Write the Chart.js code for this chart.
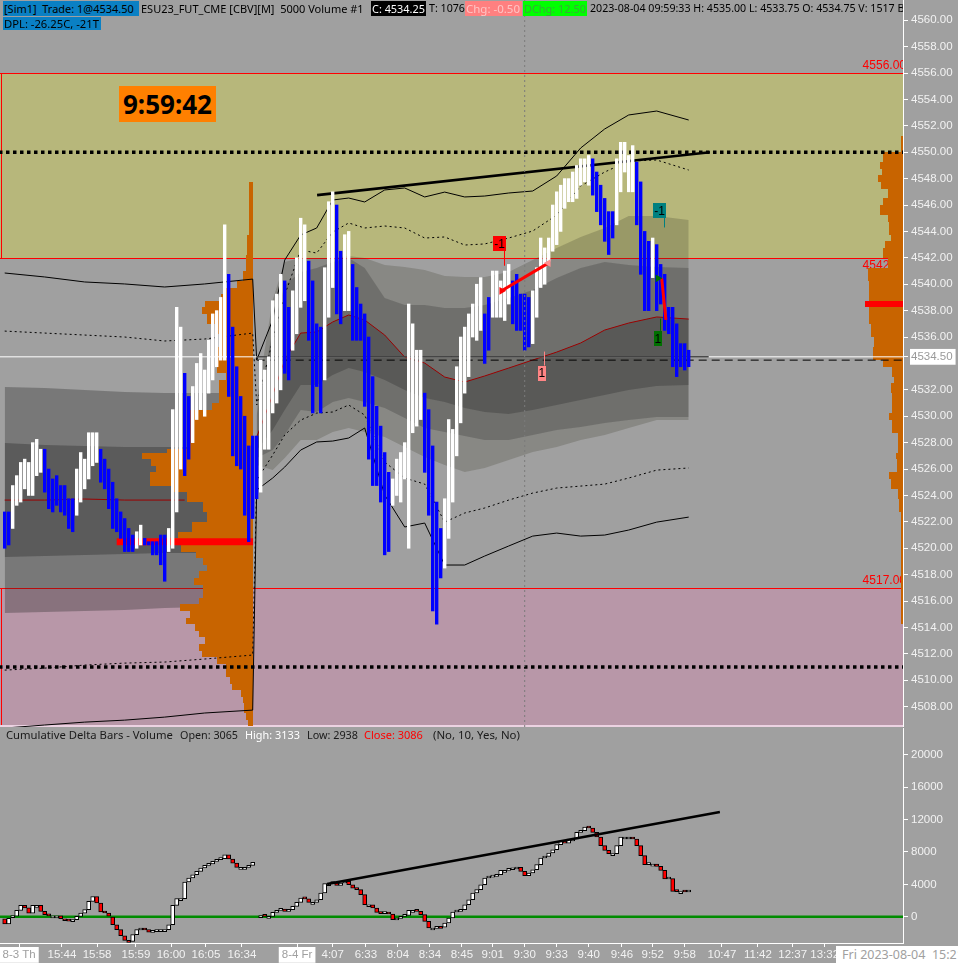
<!DOCTYPE html>
<html>
<head>
<meta charset="utf-8">
<title>ESU23_FUT_CME 5000 Volume</title>
<script src="https://cdn.jsdelivr.net/npm/chart.js@4.4.1/dist/chart.umd.min.js"></script>
<style>
  html, body { margin:0; padding:0; background:#a0a0a0; overflow:hidden; }
  #wrap { position:relative; width:958px; height:963px; background:#a0a0a0; overflow:hidden; }
  #c1 { position:absolute; left:0; top:0; width:958px; height:727px; }
  #c2 { position:absolute; left:0; top:727px; width:958px; height:236px; }
  .ov { position:absolute; white-space:pre; box-sizing:content-box; }
  #hdr { position:absolute; left:0; top:0; width:903px; height:32px; overflow:hidden; }
</style>
</head>
<body>
<div id="wrap">
  <canvas id="c1" width="958" height="727"></canvas>
  <canvas id="c2" width="958" height="236"></canvas>
  <div id="hdr"></div>
</div>
<script>
// ===================== DATA =====================
// Price bars, session 1 (8-3), bar index 0..63
const lowD1 = [4520.0,4520.25,4521.5,4523.25,4523.5,4524.5,4524.0,4524.0,4525.5,4525.75,
4524.25,4523.0,4522.75,4523.25,4522.75,4522.5,4521.5,4521.25,4522.5,4523.5,
4524.5,4525.25,4526.25,4526.5,4525.0,4524.5,4523.0,4521.5,4521.25,4520.75,
4519.75,4519.75,4519.75,4520.0,4520.25,4520.25,4520.25,4519.5,4519.5,4518.75,
4517.5,4519.75,4520.0,4522.75,4526.0,4525.5,4526.75,4528.0,4529.75,4530.5,
4530.0,4531.75,4532.75,4533.75,4534.25,4534.25,4531.5,4527.0,4526.25,4526.0,
4522.5,4520.5,4522.25,4523.75];
const highD1 = [4522.75,4522.75,4524.75,4525.5,4526.5,4526.75,4526.5,4528.0,4528.25,4527.5,
4527.5,4526.0,4525.25,4525.5,4524.75,4524.75,4523.75,4523.75,4526.0,4527.25,
4526.75,4528.75,4528.75,4528.75,4527.5,4526.75,4526.0,4525.0,4523.75,4522.75,
4522.25,4521.5,4521.0,4521.25,4521.75,4520.75,4520.5,4520.5,4520.5,4521.0,
4521.0,4521.5,4530.5,4538.25,4536.75,4533.25,4531.5,4532.25,4534.0,4534.75,
4533.5,4535.75,4537.75,4538.0,4539.0,4544.5,4540.75,4536.75,4533.75,4531.5,
4530.0,4527.75,4528.5,4528.5];
const upD1 = [0,0,1,1,1,1,1,1,1,1, 0,0,0,0,0,0,0,0,1,1, 1,1,1,1,0,0,0,0,0,0,
0,0,0,1,1,0,0,0,0,0, 0,1,1,1,1,0,0,1,1,1, 1,1,1,1,1,1,0,0,0,0, 0,0,0,0];
// Price bars, session 2 (8-4), bar index 64..171
const lowD2 = [4524.25,4527.5,4527.5,4530.25,4531.0,4532.0,4533.25,4532.75,4535.0,4536.25,
4538.25,4538.75,4535.75,4530.25,4532.25,4530.25,4532.75,4537.5,4539.75,4537.75,
4537.0,4538.0,4538.0,4535.75,4535.75,4535.75,4530.75,4526.75,4524.75,4524.75,
4523.5,4519.5,4519.75,4523.25,4524.0,4523.5,4525.25,4520.0,4528.75,4529.25,
4529.75,4525.75,4522.5,4515.25,4514.25,4517.75,4518.5,4520.75,4523.5,4527.0,
4529.5,4531.75,4533.0,4536.0,4535.75,4536.5,4534.0,4535.0,4537.5,4537.5,
4537.5,4537.25,4538.5,4537.0,4536.5,4536.5,4535.0,4535.25,4535.5,4537.5,
4539.75,4540.0,4541.75,4542.5,4543.0,4544.0,4545.75,4546.25,4546.25,4546.5,
4547.5,4547.75,4547.5,4546.75,4545.5,4544.5,4543.25,4542.25,4543.5,4544.5,
4547.0,4548.5,4547.0,4547.0,4544.5,4540.75,4538.0,4538.0,4540.5,4538.0,
4538.5,4536.5,4536.25,4533.75,4533.0,4533.75,4533.5,4533.75];
const highD2 = [4534.25,4533.5,4534.5,4538.75,4539.25,4540.75,4540.25,4538.25,4539.5,4542.0,
4545.0,4544.5,4541.75,4540.25,4537.0,4536.75,4541.25,4546.25,4547.0,4546.0,
4542.5,4543.75,4544.0,4541.5,4539.75,4538.5,4537.75,4536.0,4533.0,4530.75,
4529.25,4527.25,4525.75,4525.25,4526.75,4527.25,4528.0,4538.5,4537.0,4535.0,
4535.0,4531.75,4530.5,4527.75,4523.5,4521.5,4523.75,4529.75,4529.0,4533.75,
4536.0,4536.75,4537.75,4538.5,4540.0,4540.5,4537.75,4539.0,4541.0,4541.0,
4540.25,4541.0,4541.5,4540.25,4540.75,4539.25,4539.25,4539.0,4539.5,4541.25,
4543.5,4542.75,4543.5,4546.0,4547.0,4547.5,4548.0,4548.0,4548.5,4549.0,
4549.5,4549.5,4549.75,4549.5,4548.5,4547.5,4546.5,4545.5,4545.5,4549.5,
4550.75,4550.75,4549.75,4550.5,4549.25,4547.75,4544.0,4543.25,4543.5,4543.0,
4541.5,4540.75,4538.25,4538.25,4537.0,4535.5,4535.5,4535.0];
const upD2 = [1,1,1,1,1,1,0,0,1,1, 1,1,0,0,0,0,1,1,1,0, 0,1,1,0,0,0,0,0,0,0,
0,0,0,1,1,1,1,1,1,1, 1,0,0,0,0,0,1,1,1,1, 1,1,1,1,1,1,0,0,1,1,
1,1,1,0,0,0,0,0,1,1, 1,1,1,1,1,1,1,1,1,1, 1,1,1,0,0,0,0,0,0,1,
1,1,1,1,0,0,0,0,1,0, 0,0,0,0,0,0,0,0];

// Cumulative delta closes per bar (null = no bar)
const deltaD1 = [-900,-200,0,780,1400,1100,450,1400,1400,660,
250,100,100,100,-250,-300,-370,-370,40,450,
865,1895,2500,1690,577,453,0,-990,-1600,-2350,
-2925,-3050,-2225,-1600,-1400,-1600,-1900,-1700,-1600,-1600,
-1600,-990,1400,2225,2225,4285,4780,5190,5600,6015,
6345,6510,6840,7045,7170,7660,7130,6630,6100,6100,
6100,6345,6715];
const deltaD2 = [null,120,40,40,535,780,950,660,870,1280,1770,
2300,2200,1770,1770,2100,2925,4080,4080,4160,3870,
4160,4370,3950,3540,3340,2720,1480,1480,1070,535,
370,400,330,-370,-160,40,160,780,780,660,
250,-580,-1400,-1400,-1200,-1280,-780,-165,577,660,
865,1480,2100,2925,3340,3950,4780,4900,4985,5190,
5730,5730,5800,5890,6100,5600,5070,5400,5800,6430,
7250,7450,7870,8280,8900,9310,9100,9600,9600,10420,
10630,11080,10960,10420,9850,8775,8200,7790,7790,8775,
9850,9850,9850,9600,8775,7540,6430,6500,6500,6220,
5730,4655,4700,3130,3100,3100,3050,3086];
const deltaFirstOpen = -250;

// Session-1 VWAP bands (bar index knots)
const bandIdx1 = [0,10,20,30,40,50,62];
const d1MidTop  = [4532.21,4532.14,4531.98,4531.83,4531.76,4531.76,4531.76];
const d1MidBot  = [4515.09,4515.17,4515.24,4515.32,4515.47,4515.55,4515.62];
const d1DarkTop = [4527.97,4527.82,4527.74,4527.67,4527.67,4527.67,4527.67];
const d1DarkBot = [4519.33,4519.41,4519.48,4519.56,4519.64,4519.64,4519.64];

// Session-2 VWAP and bands
const bandIdx2 = [63,67,70,74,78,82,86,90,95,100,105,110,115,120,126,132,138,144,150,156,163,171];
const vwap2  = [4528.42,4531.61,4534.26,4536.3,4536.38,4537.14,4537.67,4537.29,4536.15,4534.48,4534.03,4532.97,4532.59,4533.05,4533.65,4534.26,4534.86,4535.55,4536.53,4537.06,4537.52,4537.36];
const bandU1 = [4531.23,4538.8,4541.68,4541.98,4541.98,4541.98,4542.14,4541.98,4541.45,4541.3,4541.08,4540.62,4540.55,4540.55,4540.92,4541.83,4542.74,4543.58,4544.26,4545.17,4545.17,4544.86];
const bandU2 = [4530.09,4536.53,4539.94,4540.92,4541.23,4541.68,4541.98,4541.23,4538.95,4538.42,4538.42,4538.2,4538.2,4538.42,4538.95,4539.56,4540.47,4541.23,4541.68,4541.45,4541.3,4541.23];
const bandD3 = [4527.44,4528.95,4530.47,4532.36,4532.36,4533.12,4533.65,4533.35,4532.74,4531.98,4531.38,4531.08,4530.62,4530.32,4530.17,4530.47,4530.85,4531.23,4531.61,4531.98,4532.29,4532.36];
const bandD2 = [4526.83,4527.44,4528.58,4530.47,4530.32,4531.08,4531.38,4531.08,4530.62,4529.86,4529.11,4528.8,4528.5,4528.2,4528.2,4528.58,4528.95,4529.18,4529.48,4529.71,4529.94,4529.94];
const bandD1 = [4526.3,4525.92,4526.83,4528.2,4528.2,4528.8,4529.11,4528.8,4528.42,4527.67,4526.91,4526.3,4525.77,4526.08,4526.68,4527.29,4527.67,4528.2,4528.58,4529.11,4529.71,4529.71];

// Session-1 VWAP
const vwapIdx1 = [0,10,20,30,45];
const vwap1 = [4523.65,4523.65,4523.73,4523.65,4523.65];

// Deviation lines (both sessions)
const lineIdx = bandIdx1.concat(bandIdx2);
const lineSplus  = [4540.85,4540.55,4540.17,4540.02,4539.79,4540.02,4540.39,
  4534.26,4537.29,4541.83,4543.73,4544.26,4546.38,4546.53,4546.23,4547.14,4547.29,4546.61,4546.98,4546.61,4546.68,4546.91,4547.06,4548.2,4550.32,4551.76,4552.82,4553.12,4552.44];
const lineDplus  = [4536.45,4536.3,4536.15,4536.0,4535.7,4535.85,4536.3,
  4530.85,4535.77,4539.18,4542.59,4542.36,4543.95,4544.64,4544.26,4544.41,4544.26,4543.5,4543.58,4542.97,4543.05,4543.5,4544.03,4545.24,4547.44,4548.5,4549.33,4549.41,4548.65];
const lineDminus = [4510.77,4510.92,4511.15,4511.3,4511.38,4511.61,4511.91,
  4525.17,4527.06,4528.58,4529.71,4530.24,4530.32,4530.85,4530.09,4526.53,4525.32,4524.86,4521.98,4522.67,4523.05,4523.65,4524.18,4524.56,4524.71,4524.86,4525.32,4525.92,4526.08];
const lineSminus = [4506.38,4506.61,4506.83,4506.98,4507.21,4507.52,4507.74,
  4524.41,4525.32,4526.15,4527.44,4528.05,4528.12,4528.35,4529.11,4524.03,4521.61,4521.91,4518.73,4518.73,4519.41,4520.17,4520.92,4521.15,4520.92,4521.0,4521.38,4521.98,4522.36];

// Volume profiles: bin edges (price) and volume per bin
const prof1Edges = [4547.75,4543.75,4542.25,4541.0,4540.25,4539.75,4539.25,4538.75,4538.25,4537.75,4537.0,4536.25,4535.25,4533.25,4532.75,4531.0,4530.5,4527.5,4527.25,4526.75,4526.25,4525.75,4524.75,4524.25,4523.5,4522.75,4522.0,4521.25,4520.75,4520.25,4519.75,4519.25,4518.75,4518.25,4517.75,4517.25,4516.25,4515.75,4515.25,4514.75,4514.25,4513.75,4513.25,4512.75,4512.25,4511.75,4511.25,4510.25,4509.75,4509.25,4508.75,4508.25,4507.5,4507.0,4506.5];
const prof1Vol = [400,700,800,1100,1800,3100,3500,5300,5700,5100,4100,3500,4000,3000,3800,4600,7300,9500,12300,11300,10800,11500,9100,7300,5500,5100,6800,8300,9000,8000,6300,5600,5100,6000,6600,5600,6000,8100,7000,7400,6400,6000,5300,6000,5700,4000,3000,2500,2300,1300,1100,1000,800,600];
const prof2Edges = [4551.25,4550.0,4549.25,4548.75,4548.25,4547.75,4547.25,4546.5,4546.0,4545.25,4544.75,4543.75,4543.25,4542.75,4542.0,4541.25,4540.25,4538.75,4538.25,4537.0,4536.75,4536.0,4535.25,4534.25,4533.75,4533.0,4532.5,4531.75,4530.25,4529.75,4528.75,4528.25,4527.25,4526.75,4525.75,4525.25,4524.5,4523.75,4522.75,4519.75,4514.25];
const prof2Vol = [200,2200,2600,2300,2800,2400,1700,2200,2600,1700,1500,1300,2000,2200,1700,3900,3800,4200,3800,3600,3500,3200,3300,2200,1200,1000,1300,1200,1600,1200,500,600,800,700,1600,1300,600,400,200,200];
const profAnchor = [62.1, 224.6];
const pocPrice = [4520.5, 4538.5];
const poc1Span = [28, 62.1];

// Reference levels
const zoneHigh = [4556, 4517];
const zoneLow  = [4542, 4500];
const zoneLines = [4556, 4542, 4517];
const dottedLevels = [4550, 4511];
const lastPrice = 4534.5;
const openLineSpan = [63, 176];
const dashedLevel = 4534.25;
const cursorIdx = 130;

// Trend lines
const trendIdx = [78.1, 176.3];
const trendPrice = [4546.75, 4550.0];
const dTrendIdx = [80.6, 178.8];
const dTrendVal = [4042, 12941];

// Trades
const tradeIdx = [[124.25, 135.9], [164.25, 165.3]];
const tradePrice = [[4539.5, 4541.6], [4540.45, 4537.3]];
const entryIdx = 163.3, entryPrice = 4540.45;
const markIdx = [123.7, 134.3, 163.7, 163.3];
const markPrice = [4543.1, 4533.27, 4545.6, 4535.9];
const markStem = [4541.4, 4534.9, 4544.3, 4537.4];
const markText = ['-1', '1', '-1', '1'];

// Axes
const priceTicks = [4508,4510,4512,4514,4516,4518,4520,4522,4524,4526,4528,4530,4532,4534.5,4536,4538,4540,4542,4544,4546,4548,4550,4552,4554,4556,4558,4560];
const deltaTicks = [0,4000,8000,12000,16000,20000];
const timeTickIdx = [3.6,14.3,23.1,32.8,41.6,50.3,59.3,73.1,82,90.3,98.3,106.3,114.3,122,130,138,146,154.3,162,170,179.3,188.3,197,205];
const timeTickLbl = ['8-3 Th','15:44','15:58','15:59','16:00','16:05','16:34','8-4 Fr','4:07','6:33','8:04','8:34','8:45','9:01','9:30','9:33','9:40','9:46','9:52','9:58','10:47','11:42','12:37','13:32'];

// ===================== STYLE / RANGES =====================
const X_MIN = -1.175, X_MAX = -1.175 + 903/4;
const Y_MIN = 4506.46, Y_MAX = 4561.53;
const D_MIN = -3251, D_MAX = 23323;
const AX_W = 55;
const TICK_FONT = {family: '"Liberation Sans", Arial, sans-serif', size: 11.5};
const C = {
  olive:'#b7b77b', pink:'#b897a8', prof:'#c86400', red:'#ff0000', blue:'#0000ff',
  vwap:'#9a0000', axis:'#f2f2f2'
};

// ===================== BUILD =====================
const low = lowD1.concat(lowD2), high = highD1.concat(highD2), up = upD1.concat(upD2);
const deltaClose = deltaD1.concat(deltaD2);
const pts = (idx, vals) => idx.map((x, k) => ({x, y: vals[k]}));
const hline = (x0, x1, v) => [{x: x0, y: v}, {x: x1, y: v}];

const L = {type:'line', pointRadius:0, tension:0, borderWidth:1, fill:false, spanGaps:false};
const ds1 = [];
const add = d => { ds1.push(d); return ds1.length - 1; };

// session 1 bands
let t;
t = add({...L, data: pts(bandIdx1, d1MidBot), borderWidth:0, borderColor:'transparent', order:100});
add({...L, data: pts(bandIdx1, d1MidTop), borderWidth:0, borderColor:'transparent', fill:t, backgroundColor:'rgba(40,40,40,0.33)', order:99});
t = add({...L, data: pts(bandIdx1, d1DarkBot), borderWidth:0, borderColor:'transparent', order:98});
add({...L, data: pts(bandIdx1, d1DarkTop), borderWidth:0, borderColor:'transparent', fill:t, backgroundColor:'rgba(40,40,40,0.36)', order:97});
// session 2 bands
t = add({...L, data: pts(bandIdx2, bandD1), borderWidth:0, borderColor:'transparent', order:96});
add({...L, data: pts(bandIdx2, bandU1), borderWidth:0, borderColor:'transparent', fill:t, backgroundColor:'rgba(50,50,30,0.22)', order:95});
t = add({...L, data: pts(bandIdx2, bandD2), borderWidth:0, borderColor:'transparent', order:94});
add({...L, data: pts(bandIdx2, bandU2), borderWidth:0, borderColor:'transparent', fill:t, backgroundColor:'rgba(40,40,40,0.25)', order:93});
t = add({...L, data: pts(bandIdx2, bandD3), borderWidth:0, borderColor:'transparent', order:92});
add({...L, data: pts(bandIdx2, vwap2), borderWidth:0, borderColor:'transparent', fill:t, backgroundColor:'rgba(40,40,40,0.30)', order:91});
// profile draw hook
add({...L, label:'PROFILE', data: [], order:80});
// deviation lines
add({...L, data: pts(lineIdx, lineSplus), borderColor:'#000', order:70});
add({...L, data: pts(lineIdx, lineDplus), borderColor:'#000', borderDash:[2,3], order:70});
add({...L, data: pts(lineIdx, lineDminus), borderColor:'#000', borderDash:[2,3], order:70});
add({...L, data: pts(lineIdx, lineSminus), borderColor:'#000', order:70});
add({...L, data: pts(vwapIdx1, vwap1).concat([{x:50, y:null}], pts(bandIdx2, vwap2)), borderColor:C.vwap, order:69});
// horizontal levels
dottedLevels.forEach(v => add({...L, data: hline(X_MIN-2, X_MAX+2, v), borderColor:'#000', borderWidth:3.5, borderDash:[3.5,3.5], borderCapStyle:'butt', order:66}));
add({...L, data: hline(X_MIN-2, X_MAX+2, lastPrice), borderColor:'#ffffff', order:65});
add({...L, data: hline(openLineSpan[0], X_MAX+2, dashedLevel), borderColor:'#000', borderDash:[8,5], order:64});
add({...L, data: hline(openLineSpan[0], openLineSpan[1], lastPrice), borderColor:'#000', order:64});
// POC of session 1
add({...L, data: hline(poc1Span[0], poc1Span[1], pocPrice[0]), borderColor:C.red, borderWidth:7, borderCapStyle:'butt', order:60});
// trend line
add({...L, data: pts(trendIdx, trendPrice), borderColor:'#000', borderWidth:2.6, order:55});
// price bars
add({type:'bar', data: low.map((lo, i) => ({x:i, y:[lo, high[i]]})),
     backgroundColor: up.map(u => u ? '#ffffff' : C.blue), borderWidth:0,
     barThickness:2.7, grouped:false, order:20});
// cursor
add({...L, data: [{x:cursorIdx, y:Y_MIN}, {x:cursorIdx, y:Y_MAX}], borderColor:'#7a7a7a', borderDash:[2,3], order:15});
// trades
add({...L, data: pts(tradeIdx[0], tradePrice[0]), borderColor:C.red, borderWidth:3,
     pointRadius:[4.5,4.5], pointStyle:'triangle', pointRotation:[90,270], pointBackgroundColor:[C.red,'#ff9090'], pointBorderWidth:0, order:10});
add({...L, data: pts(tradeIdx[1], tradePrice[1]), borderColor:C.red, borderWidth:3, order:10});
add({...L, data: [{x:entryIdx, y:entryPrice}], showLine:false, pointRadius:4.5, pointStyle:'triangle', pointRotation:90,
     pointBackgroundColor:'#007000', pointBorderWidth:0, order:9});

// ===================== PLUGINS =====================
const zonePlugin = {
  id:'zones',
  beforeDatasetsDraw(chart) {
    const {ctx, chartArea:a, scales:{y}} = chart;
    ctx.save();
    ctx.beginPath(); ctx.rect(a.left, a.top, a.width, a.height); ctx.clip();
    const zc = [C.olive, C.pink];
    zoneHigh.forEach((hi, k) => {
      const t0 = Math.round(y.getPixelForValue(hi));
      const b0 = Math.min(Math.round(y.getPixelForValue(zoneLow[k])), a.bottom);
      ctx.fillStyle = zc[k]; ctx.fillRect(a.left, t0, a.width, b0 - t0);
      ctx.fillStyle = C.red; ctx.fillRect(a.left + 1, t0, 1, b0 - t0);
    });
    ctx.fillStyle = C.red;
    zoneLines.forEach(p => ctx.fillRect(a.left, Math.round(y.getPixelForValue(p)), a.width, 1));
    ctx.fillStyle = '#ecd2e2'; ctx.fillRect(a.left, a.bottom - 2, a.width, 2);
    ctx.font = '12px "Liberation Sans", Arial, sans-serif';
    ctx.textAlign = 'right';
    zoneLines.forEach((p, k) => {
      const yy = y.getPixelForValue(p);
      const below = (k === 1);
      ctx.textBaseline = below ? 'top' : 'bottom';
      ctx.fillStyle = C.red;
      ctx.fillText(p.toFixed(2), a.right + 3, below ? yy + 2 : yy - 1);
    });
    ctx.restore();
  }
};

const profilePlugin = {
  id:'vprofile',
  afterDatasetDraw(chart, args) {
    if (chart.data.datasets[args.index].label !== 'PROFILE') return;
    const {ctx, chartArea:a, scales:{x, y, xv}} = chart;
    ctx.save();
    ctx.beginPath(); ctx.rect(a.left, a.top, a.width, a.height); ctx.clip();
    const profs = [[prof1Edges, prof1Vol], [prof2Edges, prof2Vol]];
    profs.forEach(([edges, vols], p) => {
      const right = Math.round(x.getPixelForValue(profAnchor[p]));
      for (let k = 0; k < vols.length; k++) {
        const yt = Math.round(y.getPixelForValue(edges[k]));
        const yb = Math.round(y.getPixelForValue(edges[k + 1]));
        const w = Math.round(xv.getPixelForValue(vols[k]) - xv.getPixelForValue(0));
        const isPoc = p === 1 && pocPrice[1] < edges[k] && pocPrice[1] > edges[k + 1];
        ctx.fillStyle = isPoc ? C.red : C.prof;
        ctx.fillRect(right - w, yt, w, yb - yt);
      }
    });
    ctx.restore();
  }
};

const markerPlugin = {
  id:'markers',
  afterDatasetsDraw(chart) {
    const {ctx, scales:{x, y}} = chart;
    const mc = ['#ff0000', '#ff8585', '#008080', '#007000'];
    ctx.save();
    markIdx.forEach((mx, k) => {
      const px = x.getPixelForValue(mx), py = y.getPixelForValue(markPrice[k]);
      const sy = y.getPixelForValue(markStem[k]);
      const w = markText[k].length > 1 ? 13 : 8, h = 15;
      const sx = Math.round(px + w / 2 - 2) + 0.5;
      ctx.strokeStyle = mc[k]; ctx.lineWidth = 1;
      ctx.beginPath(); ctx.moveTo(sx, sy > py ? py + h / 2 : py - h / 2); ctx.lineTo(sx, sy); ctx.stroke();
      ctx.fillStyle = mc[k]; ctx.fillRect(Math.round(px - w / 2), Math.round(py - h / 2), w, h);
      ctx.fillStyle = '#000';
      ctx.font = '12px "Liberation Sans", Arial, sans-serif';
      ctx.textAlign = 'center'; ctx.textBaseline = 'middle';
      ctx.fillText(markText[k], px, py + 1);
    });
    ctx.restore();
  }
};

function zeroPad(s) { s.paddingTop = 0; s.paddingBottom = 0; s.paddingLeft = 0; s.paddingRight = 0; }

// ===================== CHART 1: PRICE =====================
new Chart(document.getElementById('c1'), {
  type:'bar',
  data:{datasets: ds1},
  plugins:[zonePlugin, profilePlugin, markerPlugin],
  options:{
    responsive:false, animation:false, events:[],
    layout:{padding:0, autoPadding:false},
    plugins:{legend:{display:false}, tooltip:{enabled:false}},
    elements:{point:{radius:0}},
    scales:{
      x:{type:'linear', min:X_MIN, max:X_MAX, display:false, offset:false, grid:{offset:false}},
      xv:{type:'linear', axis:'x', position:'bottom', min:0, max:90300, display:false},
      y:{type:'linear', position:'right', min:Y_MIN, max:Y_MAX,
        afterBuildTicks: s => { s.ticks = priceTicks.map(v => ({value:v})); },
        afterFit: s => { s.width = AX_W; zeroPad(s); },
        border:{color:'#ffffff', width:1},
        grid:{drawOnChartArea:false, color:'#ffffff', tickLength:5},
        ticks:{
          font:TICK_FONT, padding:3,
          color: c => (c.tick && c.tick.value === lastPrice) ? '#9a9a9a' : C.axis,
          showLabelBackdrop: c => !!(c.tick && c.tick.value === lastPrice),
          backdropColor:'#ffffff', backdropPadding:{left:1, right:3, top:1, bottom:1},
          callback: v => Number(v).toFixed(2)
        }
      }
    }
  }
});

// ===================== CHART 2: CUMULATIVE DELTA =====================
const bodies = [], bodyColors = [];
deltaClose.forEach((c, i) => {
  if (c === null) return;
  const prev = i === 0 ? deltaFirstOpen : deltaClose[i - 1];
  const o = prev === null ? 0 : prev;
  bodies.push({x:i, y:[o, c]});
  bodyColors.push(c >= o ? '#ffffff' : C.red);
});

new Chart(document.getElementById('c2'), {
  type:'bar',
  data:{datasets:[
    {...L, data: hline(X_MIN - 2, X_MAX + 2, 0), borderColor:'#008c00', borderWidth:2.5, order:30},
    {type:'bar', data:bodies, backgroundColor:bodyColors, borderColor:'#000', borderWidth:1,
     borderSkipped:false, barThickness:4, minBarLength:2, grouped:false, order:20},
    {...L, data: pts(dTrendIdx, dTrendVal), borderColor:'#000', borderWidth:2.6, order:10}
  ]},
  options:{
    responsive:false, animation:false, events:[],
    layout:{padding:{top:1, left:0, right:0, bottom:0}, autoPadding:false},
    plugins:{legend:{display:false}, tooltip:{enabled:false}},
    elements:{point:{radius:0}},
    scales:{
      x:{type:'linear', min:X_MIN, max:X_MAX, position:'bottom', offset:false,
        afterBuildTicks: s => { s.ticks = timeTickIdx.map(v => ({value:v})); },
        afterFit: s => { s.height = 20; zeroPad(s); },
        border:{color:'#ffffff', width:1},
        grid:{drawOnChartArea:false, offset:false, color:'#ffffff', tickLength:4},
        ticks:{
          font:TICK_FONT, padding:1, maxRotation:0, autoSkip:false,
          color: c => (timeTickLbl[c.index] || '').includes('-') ? '#a0a0a0' : C.axis,
          showLabelBackdrop: c => (timeTickLbl[c.index] || '').includes('-'),
          backdropColor:'#ffffff', backdropPadding:{left:3, right:3, top:1, bottom:1},
          callback: (v, i) => timeTickLbl[i]
        }
      },
      y:{type:'linear', position:'right', min:D_MIN, max:D_MAX,
        afterBuildTicks: s => { s.ticks = deltaTicks.map(v => ({value:v})); },
        afterFit: s => { s.width = AX_W; zeroPad(s); },
        border:{color:'#ffffff', width:1},
        grid:{drawOnChartArea:false, color:'#ffffff', tickLength:5},
        ticks:{font:TICK_FONT, padding:3, color:C.axis, callback: v => String(v)}
      }
    }
  }
});

// ===================== TEXT OVERLAYS =====================
const meas = document.createElement('canvas').getContext('2d');
const FAM = '"Noto Sans", "Open Sans", sans-serif';
function fitSize(text, weight, target) {
  meas.font = `${weight} 40px ${FAM}`;
  return 40 * target / meas.measureText(text).width;
}
function overlay(parent, o) {
  const d = document.createElement('div');
  d.className = 'ov';
  d.textContent = o.text;
  const wt = o.weight || 'normal';
  const size = o.tw ? fitSize(o.fit || o.text, wt, o.tw) : o.size;
  Object.assign(d.style, {
    left:o.x + 'px', top:o.y + 'px', height:o.h + 'px', lineHeight:o.h + 'px',
    fontFamily:FAM, fontWeight:wt, fontSize:size + 'px', color:o.color || '#000',
    background:o.bg || 'transparent', paddingLeft:(o.pl || 0) + 'px', paddingRight:(o.pr || 0) + 'px'
  });
  if (o.w) { d.style.width = o.w + 'px'; d.style.textAlign = 'center'; }
  parent.appendChild(d);
  return d;
}
const hdr = document.getElementById('hdr');
const wrap = document.getElementById('wrap');
overlay(hdr, {text:'[Sim1]  Trade: 1@4534.50', x:3, y:1, h:15, tw:130, bg:'#0a80c4', pl:1, pr:5});
overlay(hdr, {text:'ESU23_FUT_CME [CBV][M]  5000 Volume #1', x:141, y:1, h:15, tw:223});
overlay(hdr, {text:'C: 4534.25', x:371, y:1, h:15, tw:53, bg:'#000', color:'#fff', pl:1, pr:1});
overlay(hdr, {text:'T: 1076', x:429, y:1, h:15, tw:36});
overlay(hdr, {text:'Chg: -0.50', x:465, y:1, h:15, tw:54, bg:'#ff8080', color:'#ffc4c4', pl:1, pr:2});
overlay(hdr, {text:'DChg: 12.50', x:523, y:1, h:15, tw:62, bg:'#00ff00', color:'#3aa83a', pl:1, pr:1});
overlay(hdr, {text:'2023-08-04 09:59:33 H: 4535.00 L: 4533.75 O: 4534.75 V: 1517 B', fit:'2023-08-04 09:59:33 H: 4535.00 L: 4533.75 O: 4534.75 V: 1517', x:590, y:1, h:15, tw:305});
overlay(hdr, {text:'DPL: -26.25C, -21T', x:3, y:17, h:13, tw:95, bg:'#0a80c4', pl:1, pr:2});

overlay(wrap, {text:'9:59:42', x:119, y:86, w:97, h:36, size:26, weight:'bold', bg:'#ff8000'});

overlay(wrap, {text:'Cumulative Delta Bars - Volume', x:6, y:728, h:14, tw:167, color:'#1a1a1a'});
overlay(wrap, {text:'Open: 3065', x:180, y:728, h:14, tw:58, color:'#1a1a1a'});
overlay(wrap, {text:'High: 3133', x:245, y:728, h:14, tw:55, color:'#ffffff'});
overlay(wrap, {text:'Low: 2938', x:307, y:728, h:14, tw:51, color:'#1a1a1a'});
overlay(wrap, {text:'Close: 3086', x:364, y:728, h:14, tw:59, color:'#ff0000'});
overlay(wrap, {text:'(No, 10, Yes, No)', x:433, y:728, h:14, tw:87, color:'#1a1a1a'});

overlay(wrap, {text:'Fri 2023-08-04  15:21:35', x:836, y:946, h:17, size:12.5, bg:'#ffffff', color:'#a0a0a0', pl:6, pr:10});
</script>
</body>
</html>
